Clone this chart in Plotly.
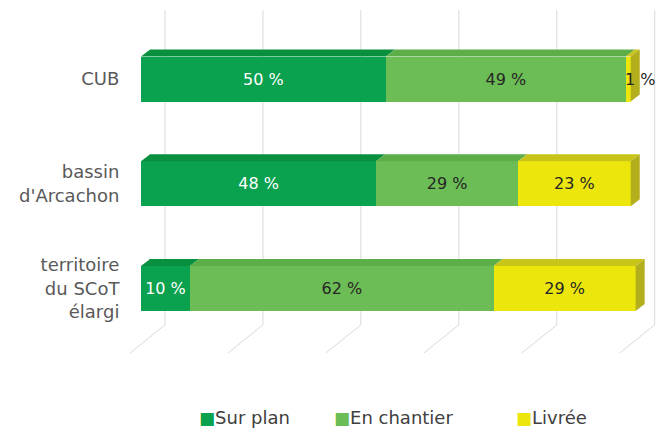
import plotly.graph_objects as go

categories = ["territoire<br>du SCoT<br>élargi", "bassin<br>d'Arcachon", "CUB"]
series_names = ["Sur plan", "En chantier", "Livrée"]
sur_plan = [10, 48, 50]
en_chantier = [62, 29, 49]
livree = [29, 23, 1]
grid_ticks = [0, 20, 40, 60, 80, 100]

colors = ["#0aa14f", "#6cbd55", "#ece60c"]
top_colors = ["#08903f", "#5dad49", "#c9c41a"]
side_color = "#b3ae1c"
text_colors = ["#ffffff", "#262626", "#262626"]

series = [sur_plan, en_chantier, livree]
ypos = list(range(len(categories)))
BAR_W = 0.43
DX = 1.85   # depth offset in x data units
DY = 0.066  # depth offset in y data units
X_MAX = 106.8

fig = go.Figure()
for k, (name, vals) in enumerate(zip(series_names, series)):
    textpos = ["inside" if v >= 5 else "none" for v in vals]
    fig.add_trace(go.Bar(
        y=ypos, x=vals, name=name, orientation="h",
        width=BAR_W, showlegend=False,
        marker=dict(color=colors[k], line=dict(width=0)),
        text=[f"{v} %" for v in vals], textposition=textpos,
        insidetextanchor="middle", constraintext="none",
        textfont=dict(family="DejaVu Sans", size=16, color=text_colors[k]),
        cliponaxis=False, hoverinfo="skip",
    ))

shapes = []
# gridlines (back wall + floor diagonals)
for t in grid_ticks:
    fx = t / X_MAX
    shapes.append(dict(type="line", xref="paper", yref="paper", xsizemode="pixel", xanchor=fx,
                       x0=24, x1=24, y0=0.082, y1=1.0,
                       line=dict(color="#d9d9d9", width=1), layer="below"))
    shapes.append(dict(type="line", xref="paper", yref="paper", xsizemode="pixel", xanchor=fx,
                       x0=24, x1=-11, y0=0.082, y1=0.0,
                       line=dict(color="#d9d9d9", width=1), layer="below"))

# 3D top faces and right end caps, computed from data
annotations = []
for i in ypos:
    start = 0
    yt = i + BAR_W / 2
    yb = i - BAR_W / 2
    for k, vals in enumerate(series):
        end = start + vals[i]
        path = (f"M {start},{yt} L {end},{yt} L {end + DX},{yt + DY} "
                f"L {start + DX},{yt + DY} Z")
        shapes.append(dict(type="path", xref="x", yref="y", path=path,
                           fillcolor=top_colors[k], line=dict(width=0), layer="above"))
        start = end
    cap = (f"M {start},{yb} L {start},{yt} L {start + DX},{yt + DY} "
           f"L {start + DX},{yb + DY} Z")
    shapes.append(dict(type="path", xref="x", yref="y", path=cap,
                       fillcolor=side_color, line=dict(width=0), layer="above"))
    for k, vals in enumerate(series):
        if vals[i] < 5:
            annotations.append(dict(x=sum(s[i] for s in series), y=i, xref="x", yref="y",
                                    text=f"{vals[i]} %", showarrow=False, xshift=9,
                                    font=dict(family="DejaVu Sans", size=16, color="#262626")))

# legend drawn as text with coloured square glyphs
legend_x = [0.1071, 0.3652, 0.7132]
for name, col, lx in zip(series_names, colors, legend_x):
    annotations.append(dict(
        x=lx, y=-0.1895, xref="paper", yref="paper", xanchor="left", yanchor="middle",
        showarrow=False,
        text=f"<span style='color:{col};font-size:17px'>■</span>{name}",
        font=dict(family="DejaVu Sans", size=18, color="#404040"),
    ))

fig.update_layout(
    width=669, height=431,
    margin=dict(l=141, r=5, t=10, b=78),
    paper_bgcolor="white", plot_bgcolor="white",
    barmode="stack",
    showlegend=False,
    font=dict(family="DejaVu Sans", size=18, color="#404040"),
    xaxis=dict(range=[0, X_MAX], showgrid=False, zeroline=False, showticklabels=False,
               showline=False, fixedrange=True, automargin=False),
    yaxis=dict(range=[-0.616, 2.659], tickvals=ypos, ticktext=categories,
               showgrid=False, zeroline=False, showline=False, ticks="outside", ticklen=0,
               automargin=False, fixedrange=True,
               ticklabelstandoff=17, tickfont=dict(family="DejaVu Sans", size=18, color="#595959")),
    shapes=shapes, annotations=annotations,
)

fig.write_html("out.html", config={"displayModeBar": False},
               post_script="document.body.style.margin='0';document.body.style.overflow='hidden';")
